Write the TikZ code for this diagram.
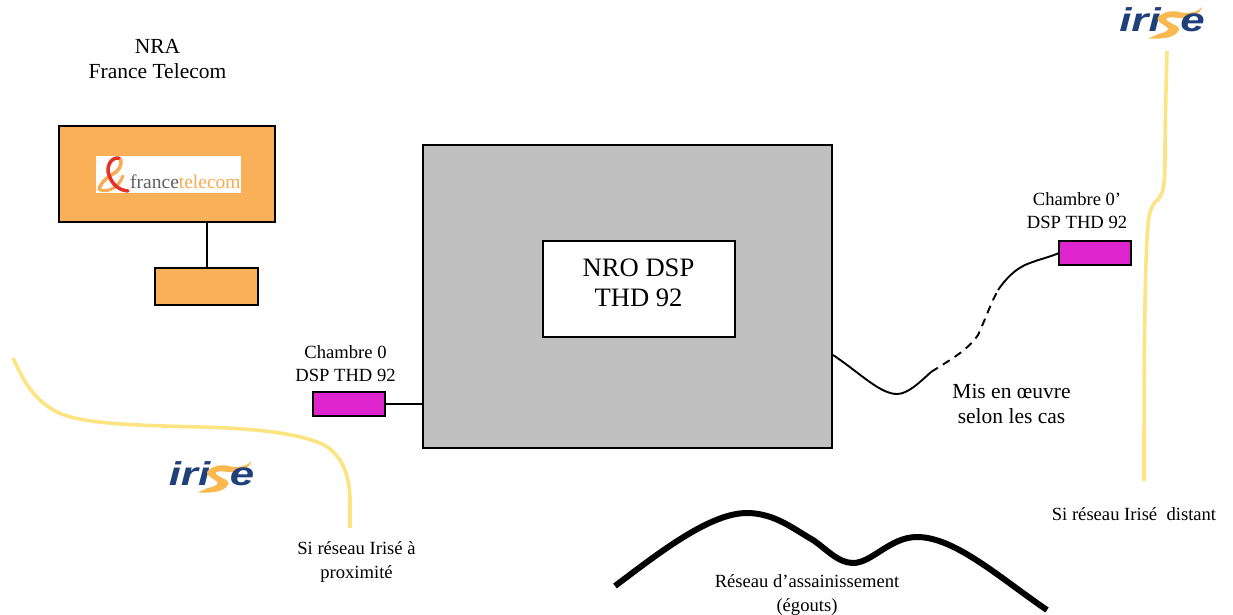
\documentclass[tikz,border=0pt]{standalone}
\usepackage{fontspec}
\setmainfont{Liberation Serif}
\newfontfamily\logofont{Liberation Sans}
\definecolor{orangebox}{RGB}{250,176,88}
\definecolor{magentabox}{RGB}{222,36,204}
\definecolor{greybox}{RGB}{192,192,192}
\definecolor{yellowline}{RGB}{253,228,130}
\definecolor{irisenavy}{RGB}{32,64,122}
\definecolor{iriseorange}{RGB}{250,184,80}
\definecolor{ftgrey}{RGB}{95,95,95}
\definecolor{ftorange}{RGB}{250,170,80}
\definecolor{ftred}{RGB}{228,50,40}
\tikzset{
  x=1pt,y=-1pt,
  boxed/.style={draw=black,line width=2pt,inner sep=0pt,outer sep=0pt,anchor=north west},
  orangeblock/.style={boxed,fill=orangebox},
  chamber/.style={boxed,fill=magentabox,minimum width=72pt,minimum height=24pt},
  link/.style={draw=black,line width=1.9pt},
  yellowrun/.style={draw=yellowline,line width=3.6pt},
  sewer/.style={draw=black,line width=6pt},
  lab/.style={align=center,inner sep=0pt,font=\fontsize{18.6}{23}\selectfont},
  labsmall/.style={align=center,inner sep=0pt,font=\fontsize{18.6}{24}\selectfont},
  labbig/.style={align=center,inner sep=0pt,font=\fontsize{21.5}{25}\selectfont},
  logoletters/.style={inner sep=0pt,anchor=base west,text=irisenavy,xscale=1.33,font=\logofont\bfseries\itshape\fontsize{33}{33}\selectfont},
  pics/iriselogo/.style={code={
    \node[logoletters] at (-42,8) {iri};
    \fill[iriseorange] (-3,-6) .. controls (2,-11) and (10,-13) .. (18,-11)
       .. controls (26,-9) and (36,-10) .. (41,-16)
       .. controls (40,-9) and (28,-4) .. (18,-5)
       .. controls (10,-6) and (6,-6) .. (5,-4)
       .. controls (6,0) and (19,2) .. (18,7)
       .. controls (16,12) and (8,15) .. (3,15)
       .. controls (-3,16) and (-9,16) .. (-13,15)
       .. controls (-8,14) and (-5,12) .. (-3,11)
       .. controls (3,10) and (7,8) .. (7,6)
       .. controls (7,3) and (-6,-1) .. (-3,-6) -- cycle;
    \node[logoletters] at (19,8) {e};
  }}
}
\begin{document}
\begin{tikzpicture}
\useasboundingbox (0,0) rectangle (1233,614);

% France Telecom exchange
\node[labbig] (nra) at (157.5,59.5) {NRA\\France Telecom};
\node[orangeblock,minimum width=216pt,minimum height=96pt] (nrabox) at (59,126) {};
\node[fill=white,inner sep=0pt,minimum width=145pt,minimum height=37pt,anchor=north west] (ftlogo) at (96,156) {};
\node[anchor=base west,inner sep=0pt,font=\fontsize{19.5}{20}\selectfont,text=ftgrey] (ftname) at (130,188) {france\textcolor{ftorange}{telecom}};
\draw[ftorange,line width=3.5pt,line cap=round] (99,189) .. controls (102,180) and (110,176) .. (116,172)
   .. controls (121,168) and (123,160) .. (119,158);
\draw[ftorange,line width=3pt,line cap=round] (99,189) .. controls (104,193) and (118,190) .. (123,176);
\draw[ftred,line width=3.5pt,line cap=round] (119,158) .. controls (110,157) and (106,168) .. (109,175)
   .. controls (112,184) and (118,190) .. (128,191);
\node[orangeblock,minimum width=216pt,minimum height=0pt,minimum height=37pt,minimum width=103pt] (annex) at (155,268) {};
\draw[link] (nrabox.south -| 207,0) -- (annex.north -| 207,0);

% NRO
\node[boxed,fill=greybox,minimum width=409pt,minimum height=303pt] (nro) at (423,145) {};
\node[boxed,fill=white,minimum width=192pt,minimum height=96pt] (nrobox) at (543,241) {};
\node[inner sep=0pt,align=center,font=\fontsize{26.6}{30}\selectfont] (nrolabel) at (638.5,283) {NRO DSP\\THD 92};

% Chambers
\node[chamber] (ch0) at (313,392) {};
\node[lab] (ch0lab) at (345.5,364) {Chambre 0\\DSP THD 92};
\draw[link] (ch0.east) -- (ch0.east -| nro.west);

\node[chamber] (ch1) at (1059,241) {};
\node[lab] (ch1lab) at (1077,210.5) {Chambre 0’\\DSP THD 92};

% NRO to chamber 0'
\coordinate (linkstart) at (833,355);
\coordinate (solidend) at (931,372);
\coordinate (dashend) at (998,290);
\draw[link] (linkstart) .. controls (860,373) and (880,394) .. (897,394)
   .. controls (908,394) and (920,382) .. (solidend);
\draw[link,dash pattern=on 8pt off 6pt] (solidend) .. controls (950,360) and (968,350) .. (978,335)
   .. controls (985,320) and (990,305) .. (dashend);
\draw[link] (dashend) .. controls (1005,280) and (1015,268) .. (1030,263)
   .. controls (1040,259) and (1050,257) .. (ch1.west);
\node[labbig] (mis) at (1011.5,403.5) {Mis en œuvre\\selon les cas};

% Left Irisé run
\coordinate (la) at (13,358);
\coordinate (lb) at (350,528);
\draw[yellowrun] (la) .. controls (24,382) and (34,400) .. (57,412)
   .. controls (80,423) and (120,425) .. (200,427)
   .. controls (240,428) and (290,431) .. (320,443)
   .. controls (343,453) and (350,478) .. (350,500) -- (lb);
\pic at (210.5,477) {iriselogo};
\node[labsmall] (proxlab) at (356.5,561.5) {Si réseau Irisé à\\proximité};

% Right Irisé run
\coordinate (ra) at (1167,51);
\coordinate (rb) at (1144,481);
\draw[yellowrun] (ra) .. controls (1166,90) and (1165,120) .. (1165,150)
   .. controls (1165,172) and (1165,190) .. (1160,197)
   .. controls (1156,203) and (1150,202) .. (1148,225)
   .. controls (1144,270) and (1144,400) .. (rb);
\pic at (1161,23) {iriselogo};
\node[labsmall] (distlab) at (1134,514) {Si réseau Irisé\ \ distant};

% Sewer
\coordinate (sa) at (615,586);
\coordinate (sb) at (1047,610);
\draw[sewer] (sa) .. controls (660,552) and (710,513) .. (747,513)
   .. controls (775,513) and (795,530) .. (813,540)
   .. controls (825,548) and (838,563) .. (853,563)
   .. controls (872,563) and (890,537) .. (917,537)
   .. controls (955,537) and (1000,578) .. (sb);
\node[labsmall] (sewerlab) at (807,595) {Réseau d’assainissement\\(égouts)};
\end{tikzpicture}
\end{document}
